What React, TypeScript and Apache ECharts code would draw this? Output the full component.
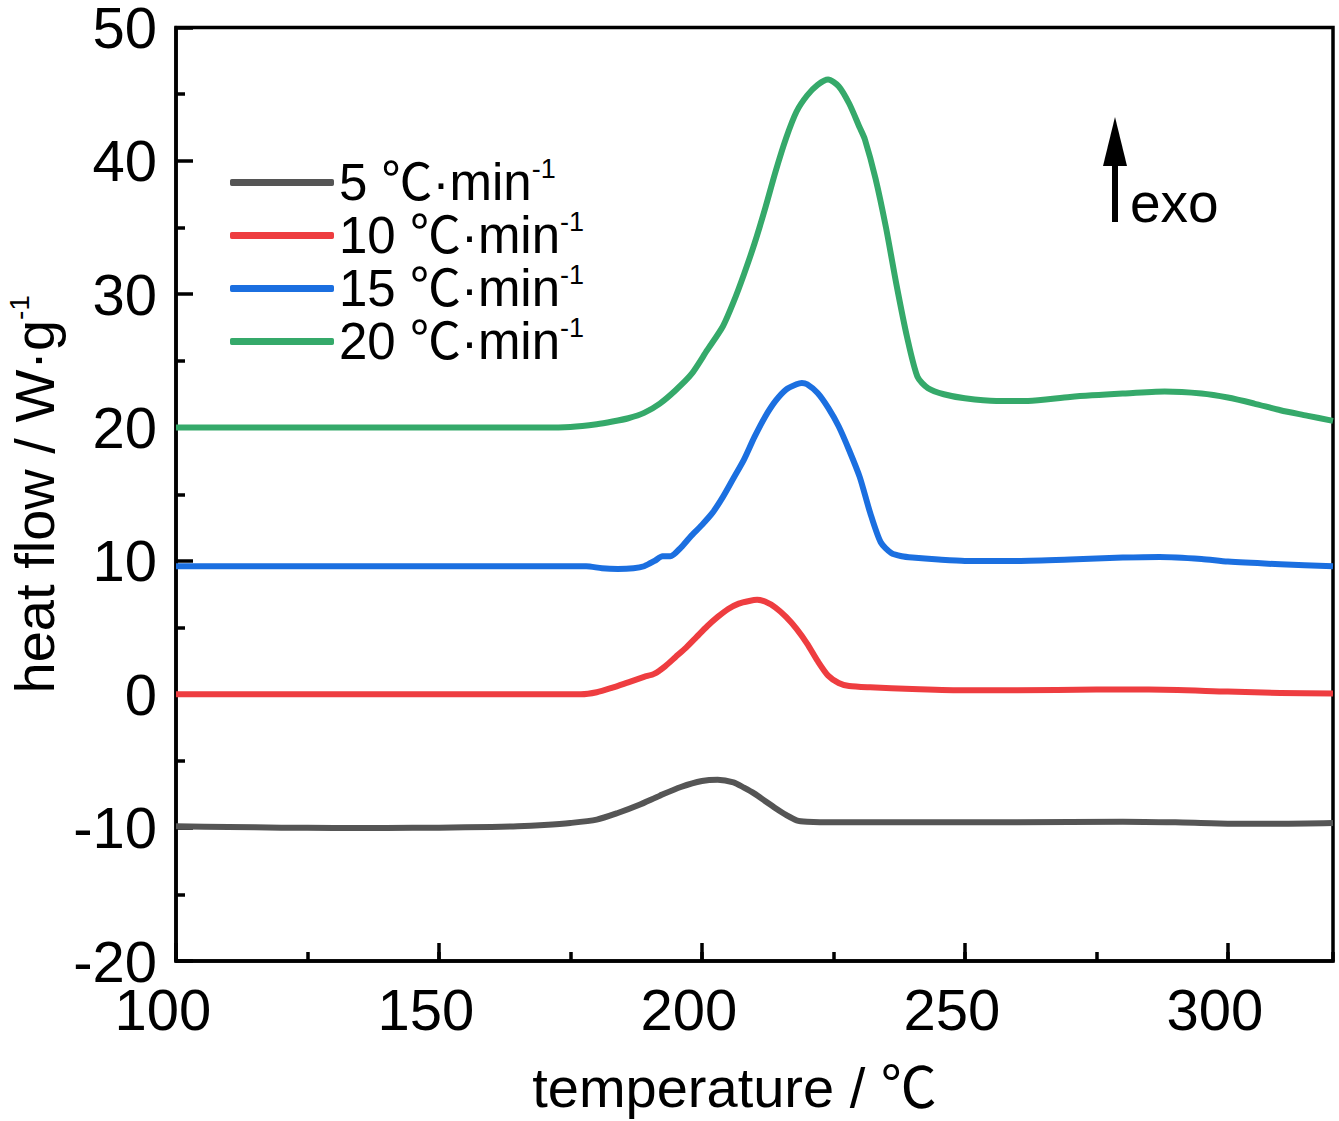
import React, { useEffect, useRef } from "react";
import * as echarts from "echarts";

const FONT = "'Liberation Sans Narrow', 'Arial Narrow', 'Liberation Sans', Arial, 'Noto Sans CJK SC', sans-serif";

const rateNames = ["5", "10", "15", "20"];
const rateColors = ["#555555", "#ee3d40", "#1b6fe0", "#35a96a"];

const xTicks = { min: 100, max: 320, interval: 50 };
const yTicks = { min: -20, max: 50, interval: 10 };

const curve5: [number, number][] = [
  [100, -9.9], [110, -9.95], [120, -10.0], [130, -10.02], [140, -10.02], [150, -10.0],
  [160, -9.95], [165, -9.9], [170, -9.8], [175, -9.65], [180, -9.4], [184, -8.9],
  [188, -8.3], [192, -7.6], [196, -6.95], [200, -6.5], [203, -6.4], [206, -6.6],
  [208, -7.0], [210, -7.45], [212, -8.0], [214, -8.55], [216, -9.05], [218, -9.45],
  [220, -9.55], [225, -9.6], [240, -9.6], [260, -9.6], [280, -9.55], [290, -9.6],
  [300, -9.7], [310, -9.7], [320, -9.65],
];

const curve10: [number, number][] = [
  [100, 0], [150, 0], [170, 0], [177, 0], [180, 0.15], [183, 0.5], [186, 0.9], [189, 1.3],
  [191, 1.55], [193, 2.1], [195, 2.8], [197, 3.5], [199, 4.3], [201, 5.1], [203, 5.8],
  [205, 6.4], [207, 6.8], [209, 7.0], [210.5, 7.08], [212, 6.95], [214, 6.5], [216, 5.8],
  [218, 4.9], [220, 3.8], [222, 2.5], [224, 1.4], [226, 0.85], [228, 0.62], [232, 0.52],
  [240, 0.4], [250, 0.3], [260, 0.3], [275, 0.35], [285, 0.35], [300, 0.2], [310, 0.1], [320, 0.05],
];

const curve15: [number, number][] = [
  [100, 9.6], [150, 9.6], [170, 9.6], [178, 9.6], [181, 9.45], [184, 9.4], [187, 9.45],
  [189, 9.6], [191, 10.0], [192.5, 10.35], [194, 10.35], [196, 11.0], [198, 11.9],
  [200, 12.7], [202, 13.6], [204, 14.8], [206, 16.2], [208, 17.6], [210, 19.3],
  [212, 20.8], [214, 22.0], [216, 22.85], [218, 23.25], [219, 23.35], [220, 23.25],
  [222, 22.6], [224, 21.5], [226, 20.1], [228, 18.3], [230, 16.3], [232, 13.6],
  [234, 11.4], [236, 10.6], [238, 10.35], [240, 10.25], [245, 10.1], [250, 10.0],
  [260, 10.0], [270, 10.1], [280, 10.25], [287, 10.3], [295, 10.15], [300, 9.95],
  [310, 9.75], [320, 9.6],
];

const curve20: [number, number][] = [
  [100, 20], [150, 20], [170, 20], [175, 20.05], [180, 20.25], [183, 20.45], [186, 20.7],
  [189, 21.1], [192, 21.8], [195, 22.8], [198, 24.0], [201, 25.8], [204, 27.6],
  [206, 29.4], [208, 31.5], [210, 33.8], [212, 36.4], [214, 39.2], [216, 41.7],
  [218, 43.7], [220, 44.9], [222, 45.7], [224, 46.1], [226, 45.6], [228, 44.3],
  [230, 42.5], [231, 41.6], [233, 38.7], [235, 35.0], [237, 30.7], [239, 26.8],
  [241, 23.8], [243, 22.95], [246, 22.5], [250, 22.2], [256, 22.0], [262, 22.0],
  [270, 22.3], [280, 22.55], [288, 22.7], [295, 22.55], [300, 22.25], [305, 21.8],
  [310, 21.3], [315, 20.9], [320, 20.5],
];

const curves = [curve5, curve10, curve15, curve20];

export default function App() {
  const ref = useRef<HTMLDivElement>(null);
  useEffect(() => {
    document.body.style.margin = "0";
    const chart = echarts.init(ref.current!, null, { renderer: "svg" });
    const axisLine = { show: true, onZero: false, lineStyle: { color: "#000", width: 3.5 } };
    chart.setOption({
      animation: false,
      backgroundColor: "#fff",
      grid: {
        left: 176, top: 27.5, right: 6, bottom: 160,
        outerBoundsMode: "none",
        containLabel: false,
        show: true, borderColor: "#000", borderWidth: 3.5, backgroundColor: "transparent",
      },
      legend: {
        show: true,
        orient: "vertical",
        left: 230,
        top: 155,
        padding: 0,
        itemGap: 0,
        itemWidth: 104,
        itemHeight: 7,
        icon: "roundRect",
        data: rateNames,
        formatter: (n: string) => `{a|${n} ℃·min}{s|-1}`,
        textStyle: {
          fontFamily: FONT,
          color: "#000",
          rich: {
            a: { fontSize: 51, lineHeight: 55, fontFamily: FONT, color: "#000" },
            s: { fontSize: 27, lineHeight: 32, verticalAlign: "top", fontFamily: FONT, color: "#000" },
          },
        },
      },
      xAxis: [
        {
          type: "value",
          min: xTicks.min,
          max: xTicks.max,
          interval: xTicks.interval,
          position: "bottom",
          axisLine,
          splitLine: { show: false },
          axisTick: { show: true, inside: true, length: 18, lineStyle: { color: "#000", width: 3.5 } },
          minorTick: { show: false },
          axisLabel: {
            show: true, showMaxLabel: false, margin: 19, padding: [0, 26, 0, 0],
            fontSize: 58, fontFamily: FONT, color: "#000",
          },
          name: "temperature / ℃",
          nameLocation: "middle",
          nameGap: 98,
          nameTextStyle: { fontSize: 56, fontFamily: FONT, color: "#000", padding: [0, 40, 0, 0] },
        },
        {
          type: "value",
          min: xTicks.min,
          max: xTicks.max,
          interval: xTicks.interval / 2,
          position: "bottom",
          axisLine: { show: false, onZero: false },
          splitLine: { show: false },
          axisTick: { show: true, inside: true, length: 9, lineStyle: { color: "#000", width: 3.5 } },
          axisLabel: { show: false },
        },
      ],
      yAxis: {
        type: "value",
        min: yTicks.min,
        max: yTicks.max,
        interval: yTicks.interval,
        axisLine,
        splitLine: { show: false },
        axisTick: { show: true, inside: true, length: 17, lineStyle: { color: "#000", width: 3.5 } },
        minorTick: { show: true, splitNumber: 2, length: 9, lineStyle: { color: "#000", width: 3.5 } },
        axisLabel: { show: true, margin: 19, fontSize: 58, fontFamily: FONT, color: "#000" },
        name: "{a|heat flow / W·g}{s|-1}",
        nameLocation: "middle",
        nameGap: 111,
        nameTextStyle: {
          fontFamily: FONT,
          color: "#000",
          rich: {
            a: { fontSize: 56, lineHeight: 58, fontFamily: FONT, color: "#000" },
            s: { fontSize: 28, lineHeight: 32, verticalAlign: "top", fontFamily: FONT, color: "#000" },
          },
        },
      },
      series: curves.map((data, i) => ({
        name: rateNames[i],
        type: "line",
        xAxisIndex: 0,
        data,
        showSymbol: false,
        symbol: "none",
        smooth: 0.25,
        clip: true,
        color: rateColors[i],
        lineStyle: { width: 6, color: rateColors[i], join: "round" },
      })),
      graphic: [
        {
          type: "line",
          shape: { x1: 1115, y1: 222, x2: 1115, y2: 160 },
          style: { stroke: "#000", lineWidth: 6 },
        },
        {
          type: "polygon",
          shape: { points: [[1103, 166], [1127, 166], [1115, 117]] },
          style: { fill: "#000" },
        },
        {
          type: "text",
          x: 1130,
          y: 203,
          style: {
            text: "exo", fontSize: 55, fontFamily: FONT, fill: "#000",
            textAlign: "left", textVerticalAlign: "middle",
          },
        },
      ],
    });
    return () => chart.dispose();
  }, []);
  return <div ref={ref} style={{ position: "absolute", left: 0, top: 0, width: 1339, height: 1121 }} />;
}
